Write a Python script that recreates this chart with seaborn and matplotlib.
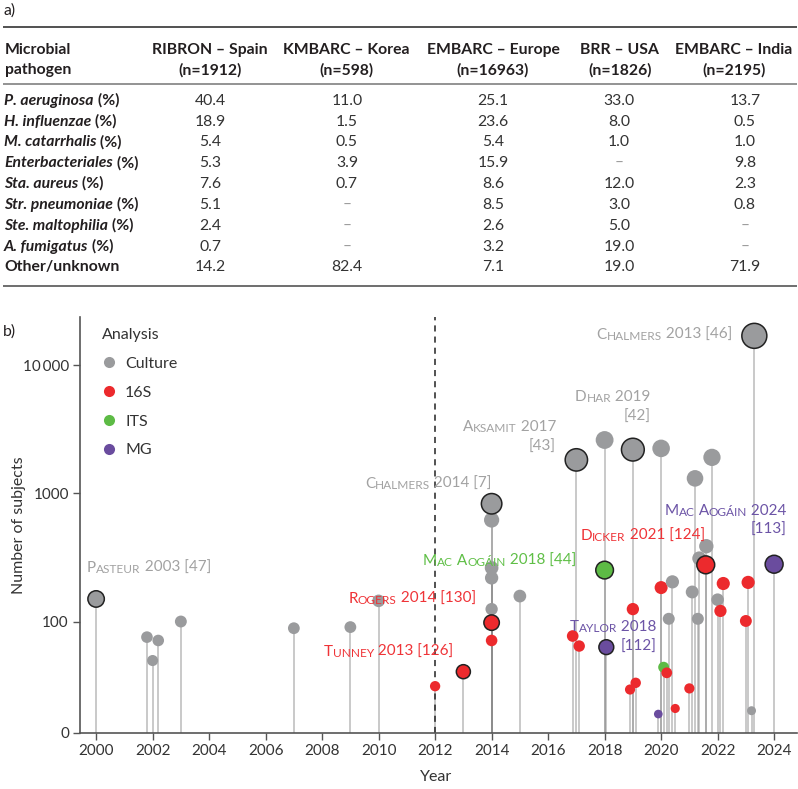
import numpy as np
import pandas as pd
import matplotlib
matplotlib.use("Agg")
import matplotlib.pyplot as plt
import seaborn as sns
from matplotlib.lines import Line2D
from matplotlib.ticker import NullLocator

# ------------------------- data: table (a) -------------------------
table_cols = ["RIBRON – Spain", "KMBARC – Korea", "EMBARC – Europe", "BRR – USA", "EMBARC – India"]
table_n = ["(n=1912)", "(n=598)", "(n=16963)", "(n=1826)", "(n=2195)"]
pathogens = ["P. aeruginosa", "H. influenzae", "M. catarrhalis", "Enterbacteriales",
             "Sta. aureus", "Str. pneumoniae", "Ste. maltophilia", "A. fumigatus", "Other/unknown"]
pathogen_pct = [True, True, True, True, True, True, True, True, False]
spain = ["40.4", "18.9", "5.4", "5.3", "7.6", "5.1", "2.4", "0.7", "14.2"]
korea = ["11.0", "1.5", "0.5", "3.9", "0.7", "–", "–", "–", "82.4"]
europe = ["25.1", "23.6", "5.4", "15.9", "8.6", "8.5", "2.6", "3.2", "7.1"]
usa = ["33.0", "8.0", "1.0", "–", "12.0", "3.0", "5.0", "19.0", "19.0"]
india = ["13.7", "0.5", "1.0", "9.8", "2.3", "0.8", "–", "–", "71.9"]

# ------------------------- data: chart (b) -------------------------
years = [2000.0, 2001.8, 2002.0, 2002.2, 2003.0, 2007.0, 2009.0, 2010.0,
         2012.0, 2013.0, 2014.0, 2014.0, 2014.0, 2014.0, 2014.0, 2014.0, 2014.0,
         2015.0, 2016.87, 2017.1, 2017.0, 2018.0, 2018.0, 2018.06,
         2019.0, 2019.0, 2018.9, 2019.1, 2020.0, 2019.9, 2020.0, 2020.4, 2020.27,
         2020.09, 2020.2, 2020.5, 2021.0, 2021.1, 2021.2, 2021.3, 2021.35, 2021.6,
         2021.8, 2021.58, 2022.0, 2022.1, 2022.2, 2023.0, 2023.08, 2023.2, 2023.3, 2024.0]
subjects = [150, 86, 65, 83, 100, 94, 95, 145,
            42, 55, 830, 620, 262, 219, 125, 99, 83,
            158, 87, 78, 1826, 2610, 252, 77,
            2195, 125, 39, 45, 2245, 17, 184, 204, 105,
            59, 54, 22, 40, 170, 1310, 105, 311, 387,
            1910, 277, 148, 121, 198, 101, 202, 20, 16963, 280]
analysis = ["Culture"] * 8 + \
           ["16S", "16S", "Culture", "Culture", "Culture", "Culture", "Culture", "16S", "16S"] + \
           ["Culture", "16S", "16S", "Culture", "Culture", "ITS", "MG"] + \
           ["Culture", "16S", "16S", "16S", "Culture", "MG", "16S", "Culture", "Culture"] + \
           ["ITS", "16S", "16S", "16S", "Culture", "Culture", "Culture", "Culture", "Culture"] + \
           ["Culture", "16S", "Culture", "16S", "16S", "16S", "16S", "Culture", "Culture", "MG"]
highlighted = [True] + [False] * 8 + [True, True] + [False] * 4 + [True, False] + \
              [False, False, False, True, False, True, True] + \
              [True] + [False] * 18 + [True] + [False] * 6 + [True, True]

analysis_order = ["Culture", "16S", "ITS", "MG"]

label_names = ["Pasteur", "Chalmers", "Aksamit", "Dhar", "Chalmers", "Mac Aogáin",
               "Dicker", "Mac Aogáin", "Rogers", "Tunney", "Taylor"]
label_tail = [" 2003 [47]", " 2014 [7]", " 2017", " 2019", " 2013 [46]", " 2024",
              " 2021 [124]", " 2018 [44]", " 2014 [130]", " 2013 [126]", " 2018"]
label_second = ["", "", "[43]", "[42]", "", "[113]", "", "", "", "", "[112]"]
label_group = ["Culture", "Culture", "Culture", "Culture", "Culture", "MG",
               "16S", "ITS", "16S", "16S", "MG"]

# ------------------------- layout / style -------------------------
W, H = 798, 789
point_colors = {"Culture": "#9a9b9d", "16S": "#ec2a2d", "ITS": "#5dbb45", "MG": "#6a4c9e"}
label_colors = {"Culture": "#a2a2a2", "16S": "#ef3337", "ITS": "#5fbf46", "MG": "#6c54a6"}
# label anchor (x in years, y in subjects, alignment), y of second line
label_layout = [(1999.68, 261, "left"), (2014.0, 1180, "right"), (2016.28, 3270, "right"),
                (2019.63, 5690, "right"), (2022.52, 17250, "right"), (2024.44, 727, "right"),
                (2021.55, 466, "right"), (2016.99, 297, "right"), (2013.44, 151, "right"),
                (2012.64, 72.7, "right"), (2019.84, 95.2, "right")]
second_y = [None, None, 2290, 3970, None, 517, None, None, None, None, 77.2]

sns.set_theme(style="ticks")
plt.rcParams["font.family"] = ["Lato", "DejaVu Sans"]
plt.rcParams["text.color"] = "#231f20"

fig = plt.figure(figsize=(W / 100, H / 100), dpi=100)

# overlay axes in pixel coordinates for the table and panel letters
ax_t = fig.add_axes([0, 0, 1, 1])
ax_t.set_xlim(0, W)
ax_t.set_ylim(H, 0)
ax_t.axis("off")

TFS = 11.3
ink = "#231f20"
ax_t.text(3, 11, "a)", fontsize=TFS, va="center", ha="left", color=ink)
ax_t.text(3, 332, "b)", fontsize=TFS, va="center", ha="left", color=ink)
ax_t.hlines(27.3, 3, 797, color="#333333", lw=1.2)
ax_t.hlines(83.5, 3, 797, color="#808080", lw=1.2)
ax_t.hlines(286, 3, 797, color="#555555", lw=1.2)

ax_t.text(5, 49.5, "Microbial", fontsize=TFS, fontweight="bold", va="center", ha="left", color=ink)
ax_t.text(5, 70, "pathogen", fontsize=TFS, fontweight="bold", va="center", ha="left", color=ink)
head_x = [210, 346, 493, 620, 734]
val_x = [210, 347, 493, 619, 745]
for cx, name, nn in zip(head_x, table_cols, table_n):
    ax_t.text(cx, 49.5, name, fontsize=TFS, fontweight="bold", ha="center", va="center", color=ink)
    ax_t.text(cx, 70, nn, fontsize=TFS, fontweight="bold", ha="center", va="center", color=ink)

row_y0, row_dy = 100.7, 20.83
columns = [spain, korea, europe, usa, india]
for i, (p, pct) in enumerate(zip(pathogens, pathogen_pct)):
    y = row_y0 + i * row_dy
    if pct:
        t = ax_t.text(4, y, p, fontsize=TFS, fontweight="bold", style="italic",
                      va="center", ha="left", color=ink)
        ax_t.annotate(" (%)", xy=(1, 0), xycoords=t, fontsize=TFS, fontweight="bold",
                      va="bottom", ha="left", color=ink)
    else:
        ax_t.text(4, y, p, fontsize=TFS, fontweight="bold", va="center", ha="left", color=ink)
    for cx, col in zip(val_x, columns):
        v = col[i]
        ax_t.text(cx, y, v, fontsize=TFS, ha="center", va="center",
                  color="#9a9a9a" if v == "–" else "#333333")

# ------------------------- chart (b) -------------------------
ax = fig.add_axes([80 / W, 1 - 733 / H, (797 - 80) / W, (733 - 317) / H])
ax.patch.set_alpha(0)

df = pd.DataFrame({"year": years, "n": subjects, "analysis": analysis, "hl": highlighted})
base_d = 3.5 + 4.2 * np.log10(df["n"].to_numpy(dtype=float))
d_px = np.minimum(np.where(df["hl"], 1.3, 1.0) * base_d, 25.0)
df["s"] = (d_px * 72 / 100) ** 2

ax.set_yscale("symlog", linthresh=100, linscale=0.783)

ax.vlines(df["year"], 0, df["n"], color="#8c8c8c", alpha=0.5, lw=1.3, zorder=1)
ax.axvline(2012, color="#222222", ls=(0, (4, 3.3)), lw=1.1, zorder=2)

sub = df[~df["hl"]]
sns.scatterplot(data=sub, x="year", y="n", hue="analysis", hue_order=analysis_order,
                palette=point_colors, s=sub["s"].to_numpy(), linewidth=0, edgecolor="none",
                legend=False, ax=ax, zorder=3)
sub = df[df["hl"]]
sns.scatterplot(data=sub, x="year", y="n", hue="analysis", hue_order=analysis_order,
                palette=point_colors, s=sub["s"].to_numpy(), linewidth=1.1, edgecolor="#222222",
                legend=False, ax=ax, zorder=4)

ax.set_xlim(1999.43, 2024.81)
ax.set_ylim(0, 23800)
ax.set_yticks([0, 100, 1000, 10000])
ax.set_yticklabels(["0", "100", "1000", "10\u2009000"])
ax.yaxis.set_minor_locator(NullLocator())
ax.set_xticks(list(range(2000, 2025, 2)))
ax.set_xticklabels([str(v) for v in range(2000, 2025, 2)])
sns.despine(ax=ax)
for sp in ["left", "bottom"]:
    ax.spines[sp].set_color("#555555")
    ax.spines[sp].set_linewidth(1.2)
ax.tick_params(axis="both", length=5, width=1.0, color="#555555", labelsize=11,
               labelcolor="#333333", pad=3)
ax.set_xlabel("Year", fontsize=11.5, color="#333333")
ax.set_ylabel("Number of subjects", fontsize=11.5, color="#333333")
ax.xaxis.set_label_coords(0.497, -0.09)
ax.yaxis.set_label_coords(-0.076, 0.5)

# legend
handles = [Line2D([], [], marker="o", ls="", markersize=8, markerfacecolor=point_colors[k],
                  markeredgecolor="none") for k in analysis_order]
leg = ax.legend(handles, analysis_order, title="Analysis", loc="upper left",
                bbox_to_anchor=(102 / W, 1 - 328 / H), bbox_transform=fig.transFigure,
                frameon=False, fontsize=11.5, title_fontsize=11.5, labelspacing=0.92,
                handlelength=0.9, handletextpad=0.55, borderpad=0, borderaxespad=0)
leg._legend_box.align = "left"
for t in leg.get_texts():
    t.set_color("#333333")
leg.get_title().set_color("#333333")

# small-caps style labels
LFS = 11
SMALL = 0.78


def sc_parts(name, tail):
    parts = []
    for wi, word in enumerate(name.split(" ")):
        first = ("" if wi == 0 else " ") + word[0]
        parts.append((first, False))
        if len(word) > 1:
            parts.append((word[1:].upper(), True))
    parts.append((tail, False))
    return parts


def draw_parts(x, y, parts, color, ha):
    seq = parts if ha == "left" else parts[::-1]
    prev = None
    for txt, small in seq:
        fs = LFS * SMALL if small else LFS
        if prev is None:
            prev = ax.text(x, y, txt, fontsize=fs, color=color, ha=ha, va="center", zorder=6)
        else:
            prev = ax.annotate(txt, xy=(1, 0) if ha == "left" else (0, 0), xycoords=prev,
                               fontsize=fs, color=color, ha=ha, va="bottom", zorder=6)


for name, tail, second, grp, (lx, ly, ha), y2 in zip(label_names, label_tail, label_second,
                                                   label_group, label_layout, second_y):
    col = label_colors[grp]
    draw_parts(lx, ly, sc_parts(name, tail), col, ha)
    if second:
        ax.text(lx, y2, second, fontsize=LFS, color=col, ha=ha, va="center", zorder=6)

fig.savefig("out.png", dpi=100)
